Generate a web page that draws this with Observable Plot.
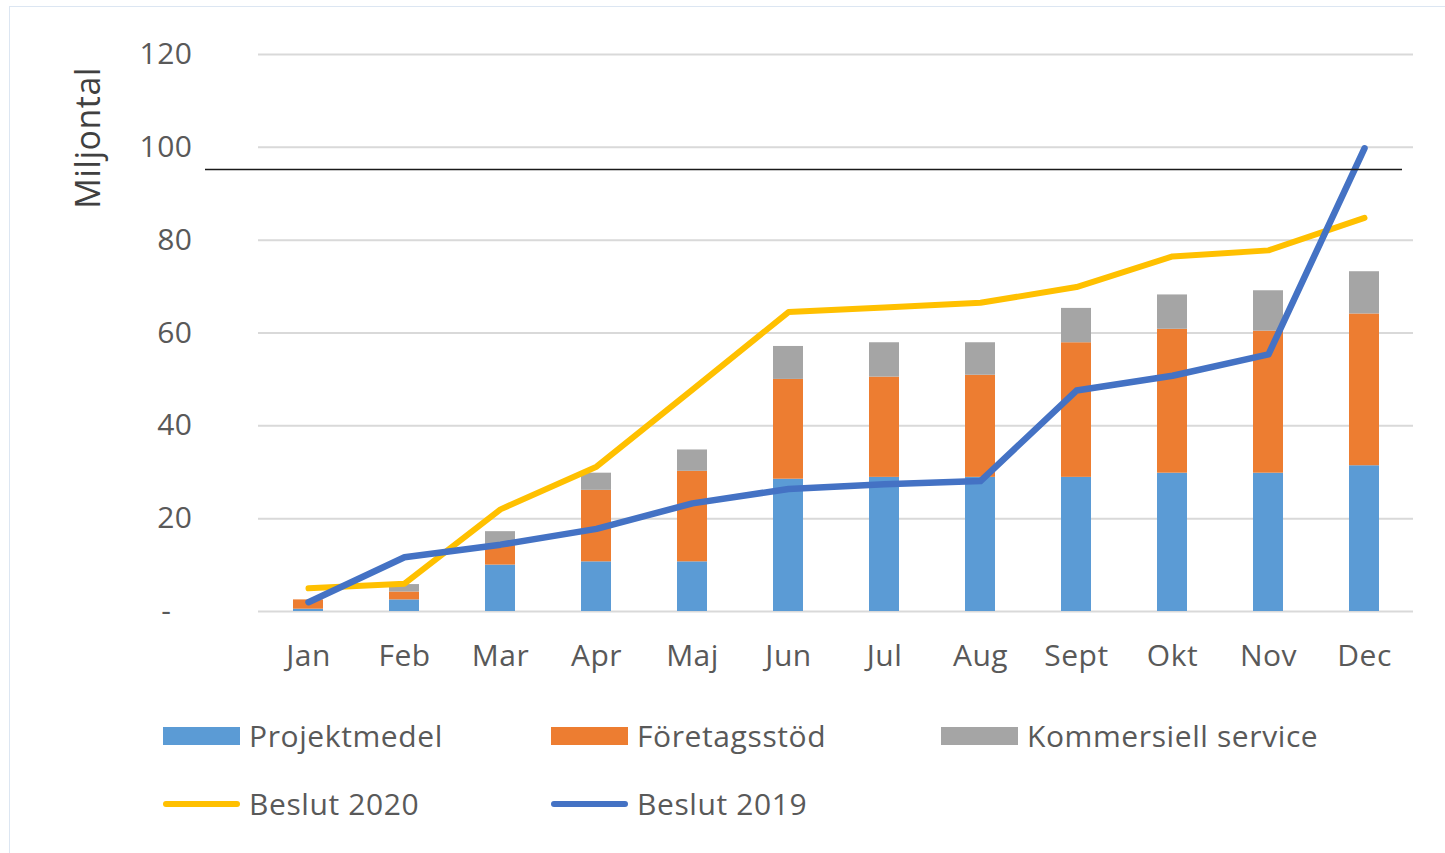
<!DOCTYPE html>
<html>
<head>
<meta charset="utf-8">
<script src="https://cdn.jsdelivr.net/npm/d3@7"></script>
<script src="https://cdn.jsdelivr.net/npm/@observablehq/plot@0.6"></script>
<style>
  body { margin: 0; background: #fff; font-family: "Open Sans", sans-serif; }
  #wrap { position: relative; width: 1445px; height: 853px; overflow: hidden; }
  #border { position: absolute; left: 9px; top: 6px; width: 1440px; height: 850px; border: 1px solid #dce6f2; box-sizing: border-box; }
  #ylabel { position: absolute; left: 87px; top: 138px; transform: translate(-50%, -50%) rotate(-90deg); font-size: 34px; letter-spacing: 0.5px; color: #404040; white-space: nowrap; }
  .leg { position: absolute; display: flex; align-items: center; font-size: 30px; letter-spacing: 0.6px; color: #595959; white-space: nowrap; }
  .sw { width: 77px; height: 18px; margin-right: 9px; }
  .ln { width: 77px; height: 6px; border-radius: 3px; margin-right: 9px; }
</style>
</head>
<body>
<div id="wrap">
  <div id="border"></div>
  <div id="chart"></div>
  <div id="ylabel">Miljontal</div>
  <div id="legend"></div>
</div>
<script>
const months = ["Jan","Feb","Mar","Apr","Maj","Jun","Jul","Aug","Sept","Okt","Nov","Dec"];
const projektmedel = [0.5, 2.5, 10.0, 10.7, 10.7, 28.5, 28.9, 28.9, 28.9, 29.8, 29.8, 31.4];
const foretagsstod = [2.0, 1.7, 4.2, 15.4, 19.5, 21.5, 21.6, 22.0, 29.0, 31.0, 30.6, 32.7];
const kommersiell  = [0.0, 1.6, 3.0, 3.7, 4.6, 7.1, 7.4, 7.0, 7.4, 7.4, 8.7, 9.1];
const beslut2020 = [5.0, 6.0, 22.0, 31.2, 47.8, 64.5, 65.5, 66.5, 69.9, 76.5, 77.8, 84.8];
const beslut2019 = [2.0, 11.7, 14.4, 17.8, 23.3, 26.4, 27.4, 28.1, 47.6, 50.8, 55.4, 99.8];
const referenceLine = [95.2];
const yTicks = [0, 20, 40, 60, 80, 100, 120];

const seriesNames = ["Projektmedel", "Företagsstöd", "Kommersiell service"];
const seriesColors = ["#5b9bd5", "#ed7d31", "#a5a5a5"];
const lineNames = ["Beslut 2020", "Beslut 2019"];
const lineColors = ["#ffc000", "#4472c4"];

const bars = [];
[projektmedel, foretagsstod, kommersiell].forEach((arr, si) => {
  arr.forEach((v, i) => bars.push({month: months[i], series: seriesNames[si], value: v}));
});
const l2020 = beslut2020.map((v, i) => ({month: months[i], value: v}));
const l2019 = beslut2019.map((v, i) => ({month: months[i], value: v}));

const plot = Plot.plot({
  width: 1445,
  height: 700,
  marginLeft: 258,
  marginRight: 32,
  marginTop: 54,
  marginBottom: 89,
  style: {fontFamily: "'Open Sans', sans-serif", fontSize: "31px", color: "#595959", background: "transparent", letterSpacing: "0.5px"},
  x: {domain: months, paddingInner: 0.69, paddingOuter: 0.345, label: null},
  y: {domain: [0, 120], label: null},
  color: {domain: seriesNames, range: seriesColors},
  marks: [
    Plot.gridY(yTicks, {stroke: "#d9d9d9", strokeOpacity: 1, strokeWidth: 2}),
    Plot.axisY(yTicks, {tickSize: 0, tickPadding: 66, fontSize: 30, fill: "#595959",
      tickFormat: d => d === 0 ? "-\u2002\u2009" : String(d), label: null}),
    Plot.axisX({tickSize: 0, tickPadding: 33, fontSize: 30, fill: "#595959", label: null}),
    Plot.barY(bars, {x: "month", y: "value", fill: "series", order: seriesNames}),
    Plot.line(l2020, {x: "month", y: "value", stroke: lineColors[0], strokeWidth: 6, strokeLinejoin: "round", strokeLinecap: "round"}),
    Plot.line(l2019, {x: "month", y: "value", stroke: lineColors[1], strokeWidth: 6.5, strokeLinejoin: "round", strokeLinecap: "round"}),
    Plot.ruleY(referenceLine, {stroke: "#1a1a1a", strokeWidth: 1.5, insetLeft: -53, insetRight: 11})
  ]
});
document.getElementById("chart").appendChild(plot);

const legend = document.getElementById("legend");
const colX = [163, 551, 941];
seriesNames.forEach((n, i) => {
  const d = document.createElement("div");
  d.className = "leg";
  d.style.left = colX[i] + "px";
  d.style.top = "715px";
  d.innerHTML = `<div class="sw" style="background:${seriesColors[i]}"></div><span>${n}</span>`;
  legend.appendChild(d);
});
lineNames.forEach((n, i) => {
  const d = document.createElement("div");
  d.className = "leg";
  d.style.left = colX[i] + "px";
  d.style.top = "783px";
  d.innerHTML = `<div class="ln" style="background:${lineColors[i]}"></div><span>${n}</span>`;
  legend.appendChild(d);
});
</script>
</body>
</html>
